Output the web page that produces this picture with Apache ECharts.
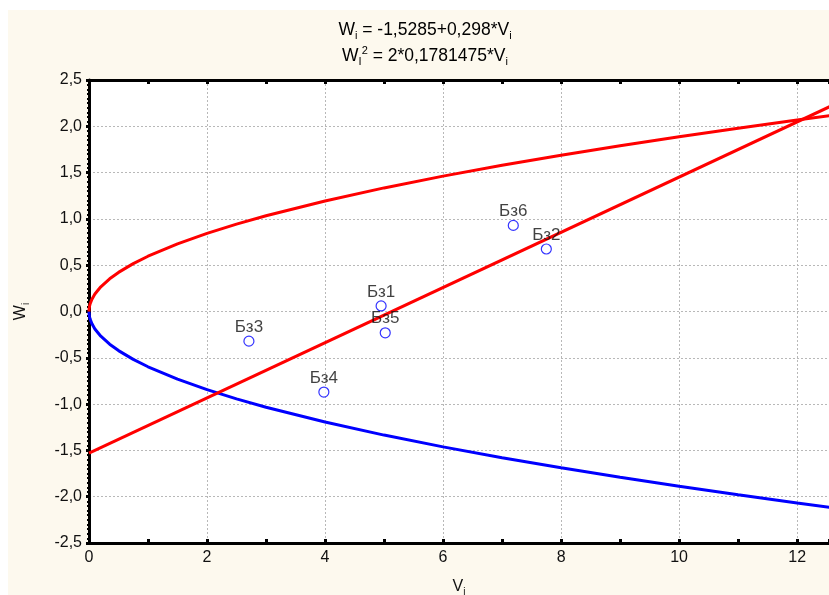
<!DOCTYPE html>
<html><head><meta charset="utf-8">
<script src="https://cdn.jsdelivr.net/npm/echarts@6/dist/echarts.min.js"></script>
<style>html,body{margin:0;padding:0;background:#fff}#c{width:829px;height:595px}</style>
</head><body><div id="c"></div>
<script>
// Tick labels
const xTicks = [0, 2, 4, 6, 8, 10, 12];
const yTicks = [-2.5, -2.0, -1.5, -1.0, -0.5, 0.0, 0.5, 1.0, 1.5, 2.0, 2.5];
// Observations
const pointNames = ['Бз1', 'Бз2', 'Бз3', 'Бз4', 'Бз5', 'Бз6'];
const pointV = [4.95, 7.75, 2.71, 3.98, 5.02, 7.19];
const pointW = [0.06, 0.675, -0.32, -0.87, -0.23, 0.93];
// Regression line W = -1,5285 + 0,298*V (end points)
const lineV = [0, 12.6];
const lineW = [-1.5285, 2.2263];
// Parabola W^2 = 2*0,1781475*V (upper branch, read values)
const parV = [0, 0.002, 0.005, 0.01, 0.02, 0.05, 0.1, 0.2, 0.35, 0.5, 0.75, 1, 1.5, 2, 2.5, 3, 4, 5, 6, 7, 8, 9, 10, 11, 12, 12.6];
const parUpper = [0, 0.0267, 0.0422, 0.0597, 0.0844, 0.1335, 0.1888, 0.2669, 0.3531, 0.4221, 0.5169, 0.5969, 0.7311, 0.8441, 0.9438, 1.0339, 1.1938, 1.3347, 1.4621, 1.5793, 1.6883, 1.7907, 1.8876, 1.9797, 2.0677, 2.1188];
const parLower = [0, -0.0267, -0.0422, -0.0597, -0.0844, -0.1335, -0.1888, -0.2669, -0.3531, -0.4221, -0.5169, -0.5969, -0.7311, -0.8441, -0.9438, -1.0339, -1.1938, -1.3347, -1.4621, -1.5793, -1.6883, -1.7907, -1.8876, -1.9797, -2.0677, -2.1188];

const FONT = 'Liberation Sans, Arial, sans-serif';
const fmt = v => v.toFixed(1).replace('.', ',');
const chart = echarts.init(document.getElementById('c'));
const richTitle = {
  n: {fontFamily: FONT, fontSize: 17.5, color: '#111', lineHeight: 22},
  s: {fontFamily: FONT, fontSize: 11, color: '#111', lineHeight: 22, verticalAlign: 'bottom'},
  p: {fontFamily: FONT, fontSize: 11, color: '#111', lineHeight: 22, verticalAlign: 'top'}
};
const richAxis = {
  n: {fontFamily: FONT, fontSize: 16, color: '#111', lineHeight: 20},
  s: {fontFamily: FONT, fontSize: 10, color: '#111', lineHeight: 20, verticalAlign: 'bottom'}
};
const xAxisCommon = {type: 'value', min: 0, max: 12.54, interval: 2};
chart.setOption({
  animation: false,
  backgroundColor: '#ffffff',
  graphic: [
    {type: 'rect', z: -10, shape: {x: 8, y: 10, width: 821, height: 585}, style: {fill: '#fdf9ee'}},
    {type: 'text', x: 425, y: 30, style: {
      text: '{n|W}{s|i}{n| = -1,5285+0,298*V}{s|i}', rich: richTitle, align: 'center', verticalAlign: 'middle'}},
    {type: 'text', x: 425, y: 56, style: {
      text: '{n|W}{s|I}{p|2}{n| = 2*0,1781475*V}{s|i}', rich: richTitle, align: 'center', verticalAlign: 'middle'}}
  ],
  grid: {left: 89, top: 80, right: 0, bottom: 52, show: true, backgroundColor: '#ffffff', borderWidth: 0,
    containLabel: false, outerBoundsMode: 'none'},
  xAxis: [
    Object.assign({}, xAxisCommon, {
      position: 'bottom',
      name: '{n|V}{s|i}', nameLocation: 'middle', nameGap: 34,
      nameTextStyle: {rich: richAxis},
      axisLine: {show: true, onZero: false, lineStyle: {color: '#000', width: 3}},
      axisTick: {show: true, inside: true, length: 4, lineStyle: {color: '#000', width: 3}},
      minorTick: {show: true, splitNumber: 2, length: 4, lineStyle: {color: '#000', width: 3}},
      axisLabel: {fontFamily: FONT, fontSize: 16, color: '#111', margin: 7, showMaxLabel: false,
        formatter: v => (xTicks.indexOf(v) >= 0 ? String(v) : '')},
      splitLine: {show: true, lineStyle: {color: '#b8b8b8', type: [2, 2], width: 1}}
    }),
    Object.assign({}, xAxisCommon, {
      position: 'top',
      axisLine: {show: true, onZero: false, lineStyle: {color: '#000', width: 3}},
      axisTick: {show: true, inside: true, length: 4, lineStyle: {color: '#000', width: 3}},
      minorTick: {show: true, splitNumber: 2, length: 4, lineStyle: {color: '#000', width: 3}},
      axisLabel: {show: false},
      splitLine: {show: false}
    })
  ],
  yAxis: {
    type: 'value', min: -2.5, max: 2.5, interval: 0.5,
    name: '{n|W}{s|i}', nameLocation: 'middle', nameGap: 58,
    nameTextStyle: {rich: richAxis},
    axisLine: {show: true, onZero: false, lineStyle: {color: '#000', width: 3}},
    axisTick: {show: true, inside: false, length: 3, lineStyle: {color: '#000', width: 3}},
    minorTick: {show: true, splitNumber: 10, length: 2, lineStyle: {color: '#000', width: 2}},
    axisLabel: {fontFamily: FONT, fontSize: 16, color: '#111', margin: 7,
      formatter: v => (yTicks.some(t => Math.abs(t - v) < 1e-9) ? fmt(v) : '')},
    splitLine: {show: true, lineStyle: {color: '#b8b8b8', type: [2, 2], width: 1}}
  },
  series: [
    {type: 'line', name: 'lower', data: parV.map((v, i) => [v, parLower[i]]), showSymbol: false,
      lineStyle: {color: '#0000ff', width: 3}, z: 2, clip: true},
    {type: 'line', name: 'upper', data: parV.map((v, i) => [v, parUpper[i]]), showSymbol: false,
      lineStyle: {color: '#ff0000', width: 3}, z: 3, clip: true},
    {type: 'line', name: 'fit', data: lineV.map((v, i) => [v, lineW[i]]), showSymbol: false,
      lineStyle: {color: '#ff0000', width: 3}, z: 3, clip: true},
    {type: 'scatter', name: 'pts', data: pointV.map((v, i) => ({value: [v, pointW[i]], name: pointNames[i]})),
      symbol: 'circle', symbolSize: 10,
      itemStyle: {color: '#ffffff', borderColor: '#0000ff', borderWidth: 1.2}, z: 5,
      label: {show: true, position: 'top', distance: 0, formatter: p => p.name,
        fontFamily: FONT, fontSize: 17, color: '#111'}}
  ]
});
</script></body></html>
